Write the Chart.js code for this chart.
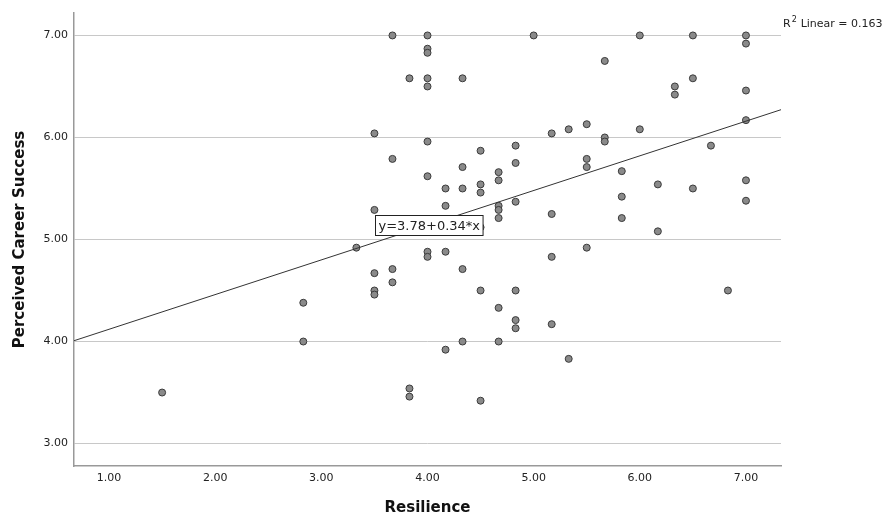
<!DOCTYPE html>
<html>
<head>
<meta charset="utf-8">
<script src="https://cdn.jsdelivr.net/npm/chart.js@4/dist/chart.umd.min.js"></script>
<style>
  html, body { margin: 0; padding: 0; background: #fff; }
  #wrap { width: 890px; height: 529px; }
</style>
</head>
<body>
<div id="wrap"><canvas id="scatter-chart" width="890" height="529"></canvas></div>
<script>
// Resilience (x) vs Perceived Career Success (y)
const resilience = [
  1.50, 2.83, 2.83, 3.33, 3.50, 3.50, 3.50, 3.50, 3.50, 3.67, 3.67, 3.67, 3.67,
  3.83, 3.83, 3.83, 4.00, 4.00, 4.00, 4.00, 4.00, 4.00, 4.00, 4.00, 4.00,
  4.17, 4.17, 4.17, 4.17, 4.33, 4.33, 4.33, 4.33, 4.33,
  4.50, 4.50, 4.50, 4.50, 4.50, 4.50, 4.67, 4.67, 4.67, 4.67, 4.67, 4.67, 4.67,
  4.83, 4.83, 4.83, 4.83, 4.83, 4.83, 5.00, 5.17, 5.17, 5.17, 5.17, 5.33, 5.33,
  5.50, 5.50, 5.50, 5.50, 5.67, 5.67, 5.67, 5.83, 5.83, 5.83, 6.00, 6.00,
  6.17, 6.17, 6.33, 6.33, 6.50, 6.50, 6.50, 6.67, 6.83,
  7.00, 7.00, 7.00, 7.00, 7.00, 7.00
];
const careerSuccess = [
  3.50, 4.38, 4.00, 4.92, 6.04, 5.29, 4.67, 4.50, 4.46, 7.00, 5.79, 4.71, 4.58,
  6.58, 3.54, 3.46, 7.00, 6.87, 6.83, 6.58, 6.50, 5.96, 5.62, 4.88, 4.83,
  5.50, 5.33, 4.88, 3.92, 6.58, 5.71, 5.50, 4.71, 4.00,
  5.87, 5.54, 5.46, 5.12, 4.50, 3.42, 5.66, 5.58, 5.33, 5.29, 5.21, 4.33, 4.00,
  5.92, 5.75, 5.37, 4.50, 4.21, 4.13, 7.00, 6.04, 5.25, 4.83, 4.17, 6.08, 3.83,
  6.13, 5.79, 5.71, 4.92, 6.75, 6.00, 5.96, 5.67, 5.42, 5.21, 7.00, 6.08,
  5.54, 5.08, 6.50, 6.42, 7.00, 6.58, 5.50, 5.92, 4.50,
  7.00, 6.92, 6.46, 6.17, 5.58, 5.38
];

const xTicks = [1, 2, 3, 4, 5, 6, 7];
const yTicks = [3, 4, 5, 6, 7];

// fit line as printed on the chart
const fitIntercept = 3.78;
const fitSlope = 0.34;
const rSquared = 0.163;

const xMin = 0.67, xMax = 7.33;
const yMin = 2.78, yMax = 7.22;

const points = resilience.map((x, i) => ({ x: x, y: careerSuccess[i] }));
const fitLine = [xMin, xMax].map(x => ({ x: x, y: fitIntercept + fitSlope * x }));

const FONT = "'DejaVu Sans', sans-serif";

const annotations = {
  id: 'annotations',
  afterDatasetsDraw(chart) {
    const { ctx, scales: { x, y } } = chart;
    ctx.save();

    // equation box
    const label = 'y=' + fitIntercept.toFixed(2) + '+' + fitSlope.toFixed(2) + '*x';
    ctx.font = '13px ' + FONT;
    const w = ctx.measureText(label).width + 6;
    const h = 20;
    const bx = Math.round(x.getPixelForValue(3.51)) + 0.5;
    const by = Math.round(y.getPixelForValue(5.14) - h / 2) + 0.5;
    ctx.fillStyle = '#fff';
    ctx.fillRect(bx, by, w, h);
    ctx.strokeStyle = '#222';
    ctx.lineWidth = 1;
    ctx.strokeRect(bx, by, w, h);
    ctx.fillStyle = '#222';
    ctx.textBaseline = 'middle';
    ctx.textAlign = 'left';
    ctx.fillText(label, bx + 3, by + h / 2 + 1);

    // R² note, top right outside the plot
    const rx = chart.chartArea.right + 2;
    const ry = 27;
    ctx.textBaseline = 'alphabetic';
    ctx.font = '11px ' + FONT;
    ctx.fillText('R', rx, ry);
    const rw = ctx.measureText('R').width;
    ctx.font = '8px ' + FONT;
    ctx.fillText('2', rx + rw + 1, ry - 5);
    ctx.font = '11px ' + FONT;
    ctx.fillText('Linear = ' + rSquared.toFixed(3), rx + rw + 10, ry);

    ctx.restore();
  }
};

new Chart(document.getElementById('scatter-chart'), {
  type: 'scatter',
  data: {
    datasets: [
      {
        type: 'line',
        data: fitLine,
        borderColor: '#333',
        borderWidth: 1,
        pointRadius: 0,
        fill: false,
        tension: 0,
      },
      {
        data: points,
        backgroundColor: '#8a8a8a',
        borderColor: '#3a3a3a',
        borderWidth: 1,
        pointRadius: 3.5,
      },
    ],
  },
  options: {
    responsive: false,
    animation: false,
    events: [],
    layout: { padding: { top: 13, right: 109, left: 0, bottom: 0 } },
    plugins: {
      legend: { display: false },
      tooltip: { enabled: false },
    },
    scales: {
      x: {
        type: 'linear',
        min: xMin,
        max: xMax,
        afterBuildTicks: s => { s.ticks = xTicks.map(v => ({ value: v })); },
        afterFit: s => { s.height = 63; },
        grid: { display: false, drawTicks: false },
        border: { display: true, color: '#999', width: 1.5 },
        ticks: {
          padding: 6,
          color: '#222',
          font: { family: FONT, size: 11 },
          callback: v => Number(v).toFixed(2),
          maxRotation: 0,
        },
        title: {
          display: true,
          text: 'Resilience',
          color: '#111',
          font: { family: FONT, size: 15, weight: 'bold' },
          padding: { top: 0, bottom: 12 },
        },
      },
      y: {
        type: 'linear',
        min: yMin,
        max: yMax,
        afterBuildTicks: s => { s.ticks = yTicks.map(v => ({ value: v })); },
        afterFit: s => { s.width = 74; },
        grid: { color: '#c8c8c8', lineWidth: 1, drawTicks: false },
        border: { display: true, color: '#999', width: 1.5 },
        ticks: {
          padding: 6,
          color: '#222',
          font: { family: FONT, size: 11 },
          callback: v => Number(v).toFixed(2),
        },
        title: {
          display: true,
          text: 'Perceived Career Success',
          color: '#111',
          font: { family: FONT, size: 15, weight: 'bold' },
          padding: { top: 11, bottom: 0 },
        },
      },
    },
  },
  plugins: [annotations],
});
</script>
</body>
</html>
